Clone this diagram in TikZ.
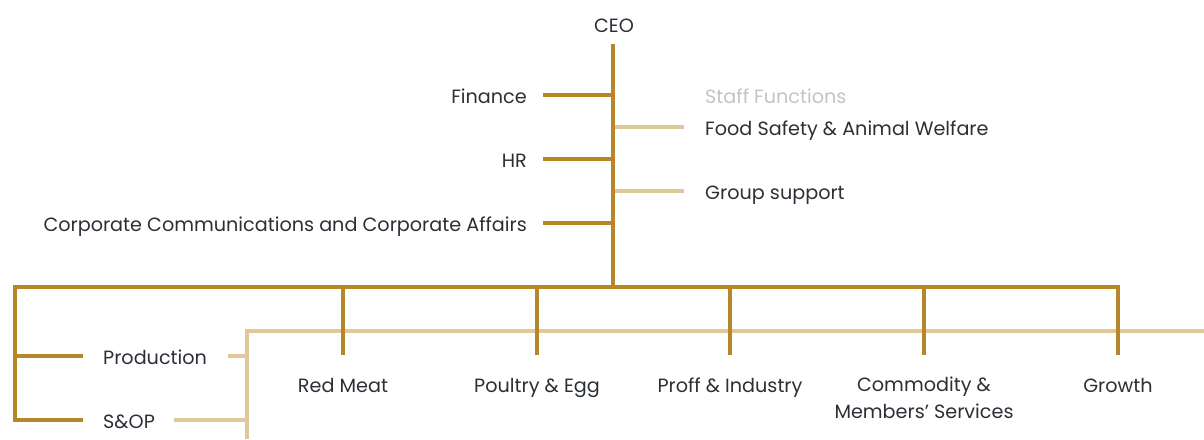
\documentclass[tikz,border=0pt]{standalone}
\usepackage{fontspec}
\setmainfont{Poppins}
\definecolor{gold}{HTML}{B5862A}
\definecolor{tanline}{HTML}{E0C89A}
\definecolor{staffgray}{HTML}{C4C4C4}
\definecolor{ink}{HTML}{2B2F36}
\begin{document}
\begin{tikzpicture}[x=1pt,y=-1pt,
  lbl/.style={inner sep=0pt,text=ink,font=\fontsize{19.2}{27}\selectfont},
  goldline/.style={draw=gold,line width=4.5pt,line join=miter},
  tanl/.style={draw=tanline,line width=4pt}]
\useasboundingbox (0,0) rectangle (1204,439);
% coordinates
\coordinate (top) at (613,44);
\coordinate (hub) at (613,287);
\coordinate (lc) at (15,287);
\coordinate (rc) at (1118,287);
\coordinate (tj) at (247,331);
\coordinate (tend) at (1204,331);
\coordinate (tbot) at (247,439);
% labels
\node[lbl,anchor=base] (ceo) at (614,32) {CEO};
\node[lbl,anchor=base east] (fin) at (527,103) {Finance};
\node[lbl,anchor=base east] (hr) at (527,167) {HR};
\node[lbl,anchor=base east] (cc) at (527,231) {Corporate Communications and Corporate Affairs};
\node[lbl,anchor=base west,text=staffgray] (staff) at (705,103) {Staff Functions};
\node[lbl,anchor=base west] (fs) at (705,135) {Food Safety \& Animal Welfare};
\node[lbl,anchor=base west] (gs) at (705,199) {Group support};
\node[lbl,anchor=base west] (prod) at (103,364) {Production};
\node[lbl,anchor=base west] (sop) at (103,428) {S\&OP};
\node[lbl,anchor=base] (rm) at (343,392) {Red Meat};
\node[lbl,anchor=base] (pe) at (537,392) {Poultry \& Egg};
\node[lbl,anchor=base] (pi) at (730,392) {Proff \& Industry};
\node[lbl,anchor=base,align=center] (cm) at (924,418) {Commodity \&\\Members’ Services};
\node[lbl,anchor=base] (gr) at (1118,392) {Growth};
% tan lines
\draw[tanl] (tend) -- (tj) -- (tbot);
\draw[tanl] ([xshift=21pt]prod.east |- 0,356) -- (tj |- 0,356);
\draw[tanl] ([xshift=19pt]sop.east |- 0,420) -- (tj |- 0,420);
\draw[tanl] (hub |- 0,127) ++(2,0) -- ([xshift=-21pt]fs.west |- 0,127);
\draw[tanl] (hub |- 0,191) ++(2,0) -- ([xshift=-21pt]gs.west |- 0,191);
% gold lines
\draw[goldline] (top) -- (hub);
\draw[goldline] ([xshift=16pt]fin.east |- 0,95) -- (hub |- 0,95);
\draw[goldline] ([xshift=16pt]hr.east |- 0,159) -- (hub |- 0,159);
\draw[goldline] ([xshift=16pt]cc.east |- 0,223) -- (hub |- 0,223);
\draw[goldline] ([xshift=-20pt]sop.west |- 0,420) -| (lc) -- (rc) -- (rc |- 0,355);
\draw[goldline] ([xshift=-20pt]prod.west |- 0,356) -- (lc |- 0,356);
\draw[goldline] (rm |- hub) -- (rm |- 0,355);
\draw[goldline] (pe |- hub) -- (pe |- 0,355);
\draw[goldline] (pi |- hub) -- (pi |- 0,355);
\draw[goldline] (cm.north |- hub) -- (cm.north |- 0,355);
\end{tikzpicture}
\end{document}
